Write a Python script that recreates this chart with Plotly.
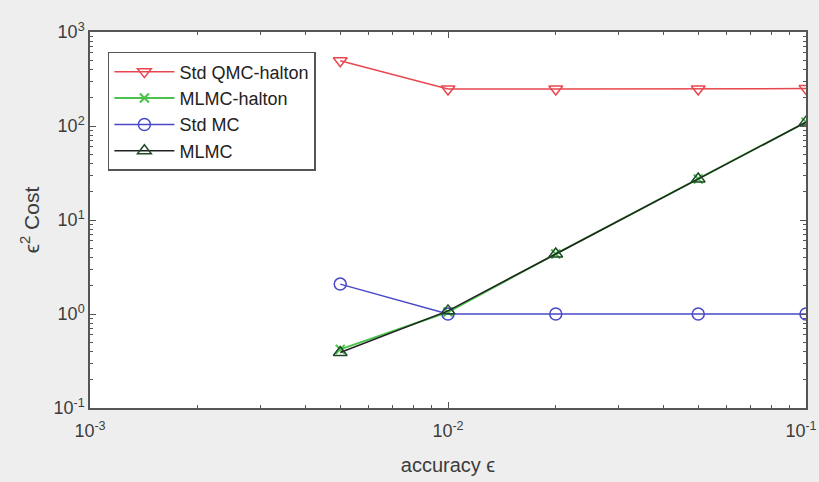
import plotly.graph_objects as go

accuracy = [0.005, 0.01, 0.02, 0.05, 0.1]
std_qmc_halton = [495, 248, 248, 248, 250]
mlmc_halton = [0.42, 1.05, 4.35, 27.3, 110]
std_mc = [2.08, 1.0, 1.0, 1.0, 1.0]
mlmc = [0.39, 1.08, 4.35, 27.3, 110]

x_tickvals = [0.001, 0.01, 0.1]
x_ticktext = ["10<sup>-3</sup>", "10<sup>-2</sup>", "10<sup>-1</sup>&nbsp;&nbsp;"]
y_tickvals = [0.1, 1, 10, 100, 1000]
y_ticktext = ["10<sup>-1</sup>", "10<sup>0</sup>", "10<sup>1</sup>", "10<sup>2</sup>", "10<sup>3</sup>"]

FONT = "Liberation Sans, Arial, DejaVu Sans"
TXT = "#3c3c3c"

fig = go.Figure()
fig.add_trace(go.Scatter(x=accuracy, y=std_qmc_halton, name="Std QMC-halton", mode="lines+markers",
                         line=dict(color="#e8474f", width=1.5),
                         marker=dict(symbol="triangle-down-open", size=12, color="#e8474f", line=dict(width=1.5))))
fig.add_trace(go.Scatter(x=accuracy, y=mlmc_halton, name="MLMC-halton", mode="lines+markers",
                         line=dict(color="#4cc24c", width=2),
                         marker=dict(symbol="x-thin-open", size=9, color="#4cc24c", line=dict(width=2, color="#4cc24c"))))
fig.add_trace(go.Scatter(x=accuracy, y=std_mc, name="Std MC", mode="lines+markers",
                         line=dict(color="#4848c8", width=1.5),
                         marker=dict(symbol="circle-open", size=12, color="#4848c8", line=dict(width=1.5))))
fig.add_trace(go.Scatter(x=accuracy, y=mlmc, name="MLMC", mode="lines+markers",
                         line=dict(color="#222222", width=1.5),
                         marker=dict(symbol="triangle-up-open", size=12, color="#1f4a2a", line=dict(width=1.5))))

axis_common = dict(type="log", showgrid=False, zeroline=False, showline=True, linecolor="#555555", linewidth=1.5,
                   mirror="ticks", ticks="inside", ticklen=6, tickcolor="#555555", automargin=False,
                   ticklabeloverflow="allow",
                   tickfont=dict(family=FONT, size=18, color=TXT),
                   minor=dict(ticks="inside", ticklen=3, tickcolor="#555555", dtick="D1", showgrid=False))

fig.update_xaxes(**axis_common, range=[-3, -1], tickmode="array", tickvals=x_tickvals, ticktext=x_ticktext,
                 ticklabelstandoff=6,
                 title=dict(text="accuracy ϵ", font=dict(family=FONT, size=20, color=TXT), standoff=18))
fig.update_yaxes(**axis_common, range=[-1, 3], tickmode="array", tickvals=y_tickvals, ticktext=y_ticktext,
                 title=dict(text="ϵ<sup>2</sup> Cost", font=dict(family=FONT, size=21, color=TXT), standoff=8))

fig.update_layout(
    width=819, height=482,
    paper_bgcolor="#eeeeee", plot_bgcolor="#ffffff",
    margin=dict(l=90, r=13, t=32, b=74),
    showlegend=True,
    legend=dict(x=0.025, y=0.947, xanchor="left", yanchor="top", bgcolor="#ffffff",
                bordercolor="#555555", borderwidth=1.5,
                font=dict(family=FONT, size=18, color="#222222"),
                tracegroupgap=0, itemwidth=60),
)

fig.write_html("out.html", config={"displayModeBar": False},
               post_script="document.body.style.margin='0';document.body.style.background='#eeeeee';document.body.style.overflow='hidden';")
